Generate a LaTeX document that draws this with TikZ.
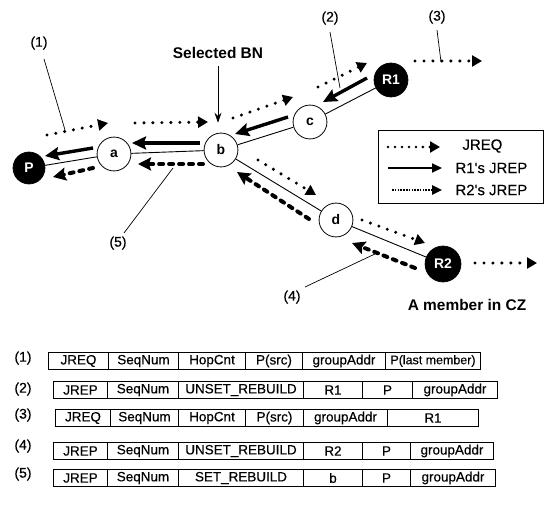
\documentclass[tikz,border=0pt]{standalone}
\usepackage{fontspec}
\setmainfont{Liberation Sans}
\newfontfamily\scanfont{Liberation Sans}[FakeBold=0.4]
\usetikzlibrary{positioning,arrows.meta,calc}

\begin{document}
\begin{tikzpicture}[
  x=1bp, y=-1bp,
  font=\scanfont\fontsize{14}{16}\selectfont,
  >=Stealth,
  hostnode/.style={circle, draw=black, line width=0.8pt, fill=white, minimum size=34pt, inner sep=0pt, font=\fontsize{14}{16}\selectfont\bfseries},
  memnode/.style={hostnode, fill=black, text=white},
  link/.style={draw=black, line width=0.9pt},
  reqmsg/.style={-{Triangle[length=10pt,width=11pt]}, line width=3.4pt, dash pattern=on 0pt off 9pt, line cap=round},
  r1msg/.style={-{Stealth[length=14pt,width=13pt,inset=2pt]}, line width=3.4pt},
  r2msg/.style={-{Stealth[length=13pt,width=13pt,inset=2pt]}, line width=4pt, dash pattern=on 4pt off 6pt, line cap=round},
  pointer/.style={draw=black, line width=0.7pt},
  cell/.style={draw=black, line width=1pt, anchor=west, minimum height=17pt, inner sep=0pt, font=\scanfont\fontsize{13.5}{15}\selectfont},
  boldtext/.style={font=\fontsize{15.5}{17}\selectfont\bfseries}
]
  \useasboundingbox (0,0) rectangle (545,506);

  % hosts
  \node[memnode, minimum size=32pt] (P) at (29,168) {P};
  \node[hostnode] (a) at (114,154) {a};
  \node[hostnode] (b) at (221,150) {b};
  \node[hostnode] (c) at (310,122) {c};
  \node[memnode] (R1) at (391,80) {R1};
  \node[hostnode] (d) at (336,220) {d};
  \node[memnode, minimum size=36pt] (R2) at (443,264) {R2};

  \draw[link] (P) -- (a);
  \draw[link] (a) -- (b);
  \draw[link] (b) -- (c);
  \draw[link] (c) -- (R1);
  \draw[link] (b) -- (d);
  \draw[link] (d) -- (R2);

  % JREQ
  \coordinate (q1s) at (47,135);   \coordinate (q1e) at (108,123);
  \coordinate (q2s) at (135,123);  \coordinate (q2e) at (208,122);
  \coordinate (q3s) at (233,118);  \coordinate (q3e) at (293,97);
  \coordinate (q4s) at (318,87);   \coordinate (q4e) at (367,63);
  \coordinate (q5s) at (415,61);   \coordinate (q5e) at (482,61);
  \coordinate (q6s) at (258,160);  \coordinate (q6e) at (316,195);
  \coordinate (q7s) at (362,220);  \coordinate (q7e) at (425,243);
  \coordinate (q8s) at (475,263);  \coordinate (q8e) at (537,263);
  \foreach \k in {1,...,8}
    \draw[reqmsg] (q\k s) -- (q\k e);

  % R1's JREP
  \coordinate (s1s) at (367,78);   \coordinate (s1e) at (323,102);
  \coordinate (s2s) at (288,117);  \coordinate (s2e) at (235,134);
  \coordinate (s3s) at (200,143);  \coordinate (s3e) at (132,143);
  \coordinate (s4s) at (93,148);   \coordinate (s4e) at (45,156);
  \foreach \k in {1,...,4}
    \draw[r1msg] (s\k s) -- (s\k e);

  % R2's JREP
  \coordinate (t1s) at (415,268);  \coordinate (t1e) at (352,243);
  \coordinate (t2s) at (309,219);  \coordinate (t2e) at (237,172);
  \coordinate (t3s) at (203,164);  \coordinate (t3e) at (138,164);
  \coordinate (t4s) at (93,168);   \coordinate (t4e) at (53,177);
  \foreach \k in {1,...,4}
    \draw[r2msg] (t\k s) -- (t\k e);

  % pointers
  \node (lab1) at (39,43) {(1)};
  \node (lab2) at (330,18) {(2)};
  \node (lab3) at (437,17) {(3)};
  \node (lab4) at (292,297) {(4)};
  \node (lab5) at (118,243) {(5)};
  \coordinate (p1) at (65,130);
  \coordinate (p2) at (340,88);
  \coordinate (p3) at (441,62);
  \coordinate (p4) at (377,253);
  \coordinate (p5) at (173,168);
  \draw[pointer] ([xshift=5bp,yshift=-6bp]lab1.south) -- (p1);
  \draw[pointer] ([yshift=-4bp]lab2.south) -- (p2);
  \draw[pointer] ([yshift=-3bp]lab3.south) -- (p3);
  \draw[pointer] ([xshift=1bp]lab4.north east) -- (p4);
  \draw[pointer] ([xshift=6bp]lab5.north) -- (p5);

  \node[boldtext] (selbn) at (218,53) {Selected BN};
  \draw[pointer, -{Stealth[length=10pt,width=7pt]}, shorten <=4pt, shorten >=10pt] (selbn.south) -- (selbn.south |- b.north);
  \node[boldtext] (czlabel) at (467,305) {A member in CZ};

  % legend
  \node[draw=black, line width=1.3pt, anchor=north west, minimum width=165bp, minimum height=73bp, inner sep=0pt] (legend) at (378,130) {};
  \coordinate (lq1) at (388,147); \coordinate (lq2) at (440,147);
  \coordinate (ls1) at (388,168); \coordinate (ls2) at (442,168);
  \coordinate (lt1) at (392,190); \coordinate (lt2) at (442,190);
  \draw[reqmsg, line width=2.8pt, dash pattern=on 0pt off 7pt] (lq1) -- (lq2);
  \draw[-{Triangle[length=10pt,width=9pt]}, line width=2pt] (ls1) -- (ls2);
  \draw[-{Triangle[length=10pt,width=9pt]}, line width=2.4pt, dash pattern=on 1.6pt off 1.2pt] (lt1) -- (lt2);
  \node[anchor=west, font=\scanfont\fontsize{15}{17}\selectfont] (legq) at (459,146) {JREQ};
  \node[anchor=west, font=\scanfont\fontsize{15}{17}\selectfont] (legs) at (452,168) {R1's JREP};
  \node[anchor=west, font=\scanfont\fontsize{15}{17}\selectfont] (legt) at (452,190) {R2's JREP};

  % message formats
  \node (row1) at (23,358) {(1)};
  \node (row2) at (23,389) {(2)};
  \node (row3) at (23,415) {(3)};
  \node (row4) at (23,446) {(4)};
  \node (row5) at (23,474) {(5)};
  \foreach \xl/\xr/\txt [count=\i] in {48/108/JREQ, 108/178/SeqNum, 178/245/HopCnt, 245/302/{P(src)}, 302/385/groupAddr, 385/480/{\fontsize{12.5}{14}\selectfont P(last member)}}
    \node[cell, minimum width={(\xr-\xl)*1bp}] (fa\i) at (\xl,361) {\txt};
  \foreach \xl/\xr/\txt [count=\i] in {53/107/JREP, 107/178/SeqNum, 178/303/UNSET\_REBUILD, 303/362/R1, 362/412/P, 412/497/groupAddr}
    \node[cell, minimum width={(\xr-\xl)*1bp}] (fb\i) at (\xl,390) {\txt};
  \foreach \xl/\xr/\txt [count=\i] in {55/110/JREQ, 110/178/SeqNum, 178/245/HopCnt, 245/303/{P(src)}, 303/387/groupAddr, 387/478/R1}
    \node[cell, minimum width={(\xr-\xl)*1bp}] (fc\i) at (\xl,418) {\txt};
  \foreach \xl/\xr/\txt [count=\i] in {53/107/JREP, 107/178/SeqNum, 178/303/UNSET\_REBUILD, 303/362/R2, 362/410/P, 410/493/groupAddr}
    \node[cell, minimum width={(\xr-\xl)*1bp}] (fd\i) at (\xl,451) {\txt};
  \foreach \xl/\xr/\txt [count=\i] in {53/107/JREP, 107/178/SeqNum, 178/303/SET\_REBUILD, 303/362/b, 362/410/P, 410/495/groupAddr}
    \node[cell, minimum width={(\xr-\xl)*1bp}] (fe\i) at (\xl,478) {\txt};
\end{tikzpicture}
\end{document}
